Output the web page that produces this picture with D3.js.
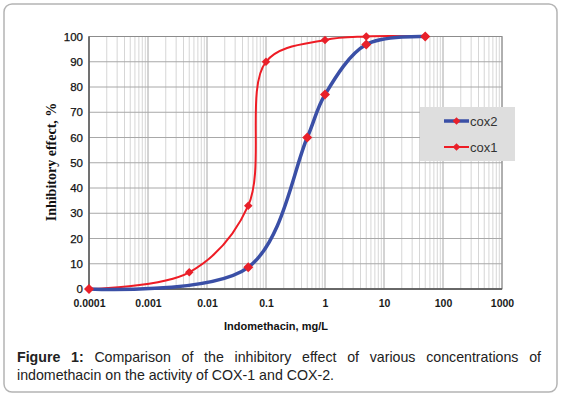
<!DOCTYPE html>
<html>
<head>
<meta charset="utf-8">
<script src="https://cdn.jsdelivr.net/npm/d3@7"></script>
<style>
  body { margin: 0; background: #fff; }
  svg { display: block; }
</style>
</head>
<body>
<script>
// data
var conc1 = [0.0001, 0.005, 0.05, 0.1, 1, 5, 50];
var cox1 = [0, 6.6, 33, 90, 98.6, 100, 100];
var conc2 = [0.0001, 0.05, 0.5, 1, 5, 50];
var cox2 = [0, 8.6, 60, 77, 96.8, 100];
var xTicks = [0.0001, 0.001, 0.01, 0.1, 1, 10, 100, 1000];
var xTickLabels = ["0.0001", "0.001", "0.01", "0.1", "1", "10", "100", "1000"];
var yTicks = [0, 10, 20, 30, 40, 50, 60, 70, 80, 90, 100];

var width = 561, height = 396;
var pLeft = 89, pRight = 502, pTop = 36.5, pBottom = 289;

var svg = d3.select("body").append("svg")
  .attr("width", width)
  .attr("height", height);

// card border
svg.append("rect")
  .attr("x", 4).attr("y", 4)
  .attr("width", 553).attr("height", 388)
  .attr("rx", 8)
  .attr("fill", "#fff")
  .attr("stroke", "#b4b4b4")
  .attr("stroke-width", 1.5);

var x = d3.scaleLog().domain([0.0001, 1000]).range([pLeft, pRight]);
var y = d3.scaleLinear().domain([0, 100]).range([pBottom, pTop]);

// minor vertical grid
var minor = [];
for (var e = -4; e < 3; e++) {
  for (var m = 2; m <= 9; m++) minor.push(m * Math.pow(10, e));
}
svg.append("g").selectAll("line").data(minor).enter().append("line")
  .attr("x1", function(d) { return x(d); })
  .attr("x2", function(d) { return x(d); })
  .attr("y1", pTop).attr("y2", pBottom)
  .attr("stroke", "#d6d6d6")
  .attr("stroke-width", 1);

// major grid
svg.append("g").selectAll("line").data(xTicks).enter().append("line")
  .attr("x1", function(d) { return x(d); })
  .attr("x2", function(d) { return x(d); })
  .attr("y1", pTop).attr("y2", pBottom)
  .attr("stroke", "#a8a8a8")
  .attr("stroke-width", 1);

svg.append("g").selectAll("line").data(yTicks).enter().append("line")
  .attr("x1", pLeft).attr("x2", pRight)
  .attr("y1", function(d) { return y(d); })
  .attr("y2", function(d) { return y(d); })
  .attr("stroke", "#a8a8a8")
  .attr("stroke-width", 1);

// plot frame
svg.append("rect")
  .attr("x", pLeft).attr("y", pTop)
  .attr("width", pRight - pLeft).attr("height", pBottom - pTop)
  .attr("fill", "none")
  .attr("stroke", "#8c8c8c");
svg.append("path")
  .attr("d", "M" + pLeft + "," + pTop + "V" + pBottom + "H" + pRight)
  .attr("fill", "none")
  .attr("stroke", "#505050")
  .attr("stroke-width", 1.3);

// tick labels via d3 axes
var xAxis = svg.append("g")
  .attr("transform", "translate(0," + pBottom + ")")
  .call(d3.axisBottom(x).tickValues(xTicks).tickSize(0).tickPadding(11)
    .tickFormat(function(d, i) { return xTickLabels[i]; }));
xAxis.select(".domain").remove();
xAxis.selectAll("text")
  .attr("font-family", "Arial, 'Liberation Sans', sans-serif")
  .attr("font-size", 10.5)
  .attr("font-weight", "bold")
  .attr("fill", "#1a1a1a");

var yAxis = svg.append("g")
  .attr("transform", "translate(" + pLeft + ",0)")
  .call(d3.axisLeft(y).tickValues(yTicks).tickSize(0).tickPadding(6));
yAxis.select(".domain").remove();
yAxis.selectAll("text")
  .attr("font-family", "Arial, 'Liberation Sans', sans-serif")
  .attr("font-size", 11.5)
  .attr("fill", "#111")
  .attr("stroke", "#111")
  .attr("stroke-width", 0.25);

// lines
var line = d3.line()
  .x(function(d) { return x(d[0]); })
  .y(function(d) { return y(d[1]); })
  .curve(d3.curveCatmullRom.alpha(0.5));

var pts1 = conc1.map(function(c, i) { return [c, cox1[i]]; });
var pts2 = conc2.map(function(c, i) { return [c, cox2[i]]; });

svg.append("path").datum(pts1)
  .attr("d", line)
  .attr("fill", "none")
  .attr("stroke", "#ee1c25")
  .attr("stroke-width", 2);

svg.append("path").datum(pts2)
  .attr("d", line)
  .attr("fill", "none")
  .attr("stroke", "#3a4fa6")
  .attr("stroke-width", 3.5);

var diamond = d3.symbol().type(d3.symbolSquare);

svg.append("g").selectAll("path").data(pts1).enter().append("path")
  .attr("d", diamond.size(36))
  .attr("transform", function(d) { return "translate(" + x(d[0]) + "," + y(d[1]) + ") rotate(45)"; })
  .attr("fill", "#e8202a");

svg.append("g").selectAll("path").data(pts2).enter().append("path")
  .attr("d", diamond.size(50))
  .attr("transform", function(d) { return "translate(" + x(d[0]) + "," + y(d[1]) + ") rotate(45)"; })
  .attr("fill", "#e8202a");

// legend
var legend = svg.append("g");
legend.append("rect")
  .attr("x", 420).attr("y", 107)
  .attr("width", 95).attr("height", 54)
  .attr("fill", "#dedede");

var legendItems = [
  { name: "cox2", color: "#3a4fa6", w: 3.5, ly: 121 },
  { name: "cox1", color: "#ee1c25", w: 2, ly: 147 }
];
legendItems.forEach(function(it) {
  legend.append("line")
    .attr("x1", 444).attr("x2", 469)
    .attr("y1", it.ly).attr("y2", it.ly)
    .attr("stroke", it.color)
    .attr("stroke-width", it.w);
  legend.append("path")
    .attr("d", diamond.size(30))
    .attr("transform", "translate(456.5," + it.ly + ") rotate(45)")
    .attr("fill", "#e8202a");
  legend.append("text")
    .attr("x", 470).attr("y", it.ly + 4.5)
    .attr("font-family", "Arial, 'Liberation Sans', sans-serif")
    .attr("font-size", 13)
    .attr("fill", "#333")
    .text(it.name);
});

// axis titles
svg.append("text")
  .attr("transform", "translate(56,162) rotate(-90)")
  .attr("text-anchor", "middle")
  .attr("font-family", "'Times New Roman', 'Liberation Serif', serif")
  .attr("font-size", 14)
  .attr("font-weight", "bold")
  .attr("fill", "#111")
  .text("Inhibitory effect, %");

svg.append("text")
  .attr("x", 276).attr("y", 330)
  .attr("text-anchor", "middle")
  .attr("font-family", "Arial, 'Liberation Sans', sans-serif")
  .attr("font-size", 11)
  .attr("font-weight", "bold")
  .attr("fill", "#111")
  .text("Indomethacin, mg/L");

// caption, first line justified
var capFont = "Arial, 'Liberation Sans', sans-serif";
var line1 = [["Figure", true], ["1:", true], ["Comparison", false], ["of", false], ["the", false],
  ["inhibitory", false], ["effect", false], ["of", false], ["various", false],
  ["concentrations", false], ["of", false]];
var cap = svg.append("g")
  .attr("font-family", capFont)
  .attr("font-size", 14.2)
  .attr("fill", "#222");
var words = line1.map(function(w) {
  return cap.append("text")
    .attr("y", 362)
    .attr("font-weight", w[1] ? "bold" : "normal")
    .text(w[0]);
});
var total = 0;
words.forEach(function(t) { total += t.node().getComputedTextLength(); });
var x0 = 17, x1 = 541;
var gap = (x1 - x0 - total) / (words.length - 1);
var cx = x0;
words.forEach(function(t) {
  t.attr("x", cx);
  cx += t.node().getComputedTextLength() + gap;
});
cap.append("text")
  .attr("x", 17).attr("y", 380)
  .text("indomethacin on the activity of COX-1 and COX-2.");
</script>
</body>
</html>
